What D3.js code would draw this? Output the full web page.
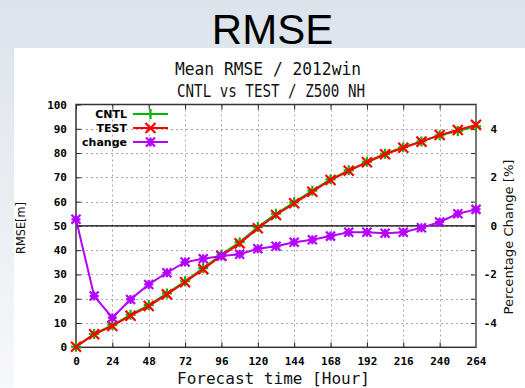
<!DOCTYPE html>
<html>
<head>
<meta charset="utf-8">
<script src="https://cdn.jsdelivr.net/npm/d3@7"></script>
<style>
  html, body { margin: 0; padding: 0; }
  body { width: 525px; height: 388px; overflow: hidden; }
</style>
</head>
<body>
<svg id="chart" width="525" height="388"></svg>
<script>
// Forecast lead times (hours)
const hours = [0, 12, 24, 36, 48, 60, 72, 84, 96, 108, 120, 132, 144, 156, 168, 180, 192, 204, 216, 228, 240, 252, 264];
// Mean RMSE of Z500 NH [m]
const cntl = [0.25, 5.5, 9.15, 13.4, 17.4, 22.2, 27.2, 32.6, 38.2, 43.3, 49.5, 55.0, 59.7, 64.5, 69.2, 72.9, 76.4, 79.7, 82.4, 84.8, 87.3, 89.1, 91.0];
const test = [0.25, 5.35, 8.8, 13.0, 17.0, 21.8, 26.8, 32.2, 37.7, 42.8, 49.0, 54.5, 59.3, 64.1, 68.9, 72.7, 76.2, 79.5, 82.2, 84.7, 87.4, 89.5, 91.6];
// Percentage change TEST vs CNTL [%]
const change = [0.27, -2.89, -3.78, -3.03, -2.41, -1.93, -1.49, -1.35, -1.24, -1.17, -0.94, -0.84, -0.67, -0.57, -0.42, -0.26, -0.26, -0.30, -0.26, -0.08, 0.16, 0.50, 0.68];

const xTicks = [0, 24, 48, 72, 96, 120, 144, 168, 192, 216, 240, 264];
const yTicks = [0, 10, 20, 30, 40, 50, 60, 70, 80, 90, 100];
const y2Ticks = [-4, -3, -2, -1, 0, 1, 2, 3, 4];
const y2Labels = [-4, -2, 0, 2, 4];

const series = [
  { name: "CNTL", values: cntl, axis: "y", color: "#00b800", marker: "plus" },
  { name: "TEST", values: test, axis: "y", color: "#ff0000", marker: "cross" },
  { name: "change", values: change, axis: "y2", color: "#b400ff", marker: "star" }
];

const svg = d3.select("#chart");

// slide background
const defs = svg.append("defs");
const grad = defs.append("linearGradient").attr("id", "bg").attr("x1", 0).attr("y1", 0).attr("x2", 0).attr("y2", 1);
grad.append("stop").attr("offset", "0%").attr("stop-color", "#dce3eb");
grad.append("stop").attr("offset", "100%").attr("stop-color", "#f6f8fa");
svg.append("rect").attr("width", 525).attr("height", 388).attr("fill", "url(#bg)");
svg.append("rect").attr("x", 14).attr("y", 48).attr("width", 511).attr("height", 340).attr("fill", "#ffffff");

svg.append("text").attr("x", 272.5).attr("y", 44).attr("text-anchor", "middle")
  .style("font-family", "'Liberation Sans', Arial, sans-serif").style("font-size", "42px")
  .attr("fill", "#000").text("RMSE");

const mono = "'DejaVu Sans Mono', monospace";
svg.append("text").attr("x", 268).attr("y", 75).attr("text-anchor", "middle")
  .style("font-family", mono).style("font-size", "18px").attr("fill", "#111")
  .attr("textLength", 186).attr("lengthAdjust", "spacingAndGlyphs")
  .text("Mean RMSE / 2012win");
svg.append("text").attr("x", 271).attr("y", 97).attr("text-anchor", "middle")
  .style("font-family", mono).style("font-size", "18px").attr("fill", "#111")
  .attr("textLength", 188).attr("lengthAdjust", "spacingAndGlyphs")
  .text("CNTL vs TEST / Z500 NH");

const pLeft = 76, pRight = 476, pTop = 104.5, pBottom = 347.3;
const x = d3.scaleLinear().domain([0, 264]).range([pLeft, pRight]);
const y = d3.scaleLinear().domain([0, 100]).range([pBottom, pTop]);
const y2 = d3.scaleLinear().domain([-5, 5]).range([pBottom, pTop]);

// grid
const grid = svg.append("g").attr("stroke", "#a8a8a8").attr("stroke-width", 1).attr("stroke-dasharray", "2,3");
grid.selectAll("line.gx").data(xTicks.slice(1, -1)).join("line")
  .attr("x1", d => Math.round(x(d)) + 0.5).attr("x2", d => Math.round(x(d)) + 0.5)
  .attr("y1", pTop).attr("y2", pBottom);
grid.selectAll("line.gy").data(yTicks.slice(1, -1)).join("line")
  .attr("x1", pLeft).attr("x2", pRight)
  .attr("y1", d => Math.round(y(d)) + 0.5).attr("y2", d => Math.round(y(d)) + 0.5);

// zero line of percentage change
svg.append("line").attr("x1", pLeft).attr("x2", pRight)
  .attr("y1", y2(0)).attr("y2", y2(0)).attr("stroke", "#000").attr("stroke-width", 1.2);

const tickFont = "'DejaVu Sans Mono', monospace";
function styleAxis(g) {
  g.select(".domain").remove();
  g.selectAll(".tick line").attr("stroke", "#222").attr("stroke-width", 1);
  g.selectAll(".tick text").style("font-family", tickFont).style("font-size", "11px")
    .style("font-weight", "bold").attr("fill", "#000");
}

svg.append("g").attr("transform", `translate(${pLeft},0)`)
  .call(d3.axisLeft(y).tickValues(yTicks).tickSizeInner(-5).tickSizeOuter(0).tickPadding(9))
  .call(styleAxis);

svg.append("g").attr("transform", `translate(0,${pBottom})`)
  .call(d3.axisBottom(x).tickValues(xTicks).tickSizeInner(-5).tickSizeOuter(0).tickPadding(10))
  .call(styleAxis);

svg.append("g").attr("transform", `translate(0,${pTop})`)
  .call(d3.axisTop(x).tickValues(xTicks).tickSizeInner(-5).tickSizeOuter(0).tickFormat(""))
  .call(styleAxis);

const y2Axis = svg.append("g").attr("transform", `translate(${pRight},0)`)
  .call(d3.axisRight(y2).tickValues(y2Ticks).tickSizeInner(-5).tickSizeOuter(0).tickPadding(21)
    .tickFormat(d => y2Labels.includes(d) ? String(d) : ""))
  .call(styleAxis);
y2Axis.selectAll(".tick text").attr("text-anchor", "end");

// frame
svg.append("rect").attr("x", pLeft).attr("y", pTop).attr("width", pRight - pLeft).attr("height", pBottom - pTop)
  .attr("fill", "none").attr("stroke", "#333").attr("stroke-width", 1.5);
svg.append("line").attr("x1", pRight).attr("x2", pRight).attr("y1", pTop).attr("y2", pBottom)
  .attr("stroke", "#777").attr("stroke-width", 2);

// axis titles
svg.append("text").attr("transform", "translate(25,228) rotate(-90)").attr("text-anchor", "middle")
  .style("font-family", "'DejaVu Sans', sans-serif").style("font-size", "12.5px").attr("fill", "#111")
  .attr("textLength", 52).attr("lengthAdjust", "spacingAndGlyphs").text("RMSE[m]");
svg.append("text").attr("x", 273.5).attr("y", 384).attr("text-anchor", "middle")
  .style("font-family", mono).style("font-size", "16px").attr("fill", "#111")
  .attr("textLength", 193).attr("lengthAdjust", "spacingAndGlyphs").text("Forecast time [Hour]");
svg.append("text").attr("transform", "translate(513,237) rotate(-90)").attr("text-anchor", "middle")
  .style("font-family", "'DejaVu Sans', sans-serif").style("font-size", "12.5px").attr("fill", "#111")
  .attr("textLength", 155).attr("lengthAdjust", "spacingAndGlyphs").text("Percentage Change [%]");

// markers
function markerPath(type, s) {
  const plus = `M${-s},0H${s}M0,${-s}V${s}`;
  const cross = `M${-s},${-s}L${s},${s}M${-s},${s}L${s},${-s}`;
  if (type === "plus") return plus;
  if (type === "cross") return cross;
  return plus + cross;
}

const plot = svg.append("g");
series.forEach(s => {
  const sc = s.axis === "y" ? y : y2;
  const line = d3.line().x((d, i) => x(hours[i])).y(d => sc(d));
  plot.append("path").datum(s.values).attr("d", line)
    .attr("fill", "none").attr("stroke", s.color).attr("stroke-width", 2);
  plot.selectAll(null).data(s.values).join("path")
    .attr("transform", (d, i) => `translate(${x(hours[i])},${sc(d)})`)
    .attr("d", markerPath(s.marker, s.marker === "star" ? 4.5 : 5))
    .attr("fill", "none").attr("stroke", s.color).attr("stroke-width", 2.2);
});

// legend
const legend = svg.append("g");
series.forEach((s, i) => {
  const ly = 114 + i * 14;
  legend.append("text").attr("x", 127).attr("y", ly + 4).attr("text-anchor", "end")
    .style("font-family", "'DejaVu Sans', sans-serif").style("font-size", "11px").style("font-weight", "bold")
    .attr("fill", "#000").text(s.name);
  legend.append("line").attr("x1", 133).attr("x2", 168).attr("y1", ly).attr("y2", ly)
    .attr("stroke", s.color).attr("stroke-width", 2);
  legend.append("path").attr("transform", `translate(150.5,${ly})`)
    .attr("d", markerPath(s.marker, s.marker === "star" ? 4.5 : 5))
    .attr("fill", "none").attr("stroke", s.color).attr("stroke-width", 2.2);
});
</script>
</body>
</html>
